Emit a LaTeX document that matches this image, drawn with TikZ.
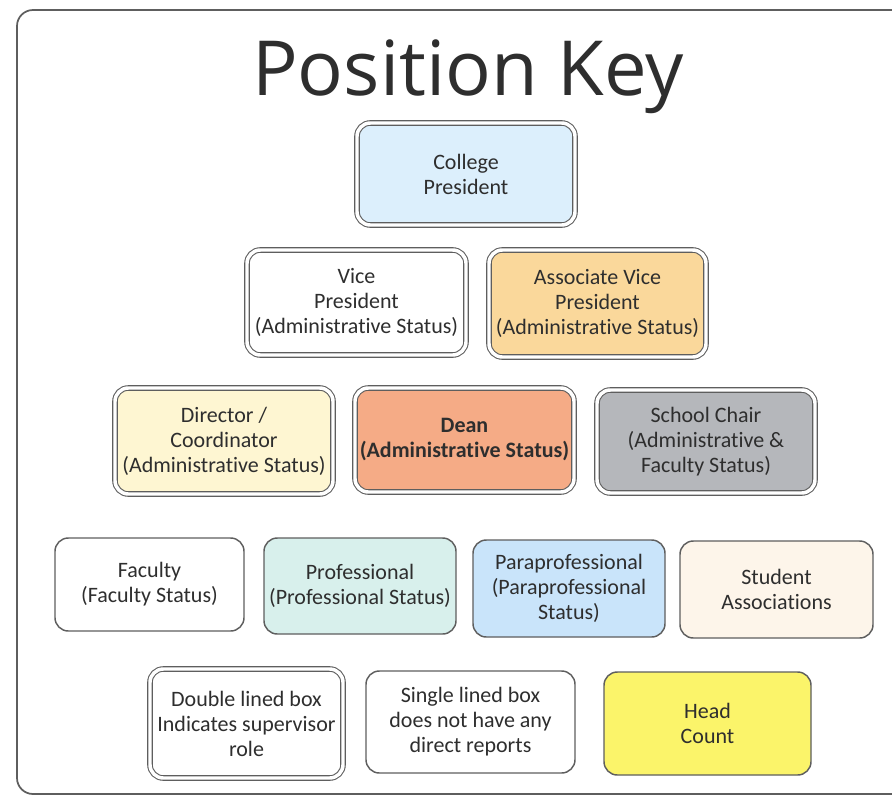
\documentclass[tikz,border=0pt]{standalone}
\usepackage{fontspec}
\setmainfont{Carlito}[Ligatures=NoCommon]
\newfontfamily\titlefont{Open Sans}
\definecolor{txt}{HTML}{2E2E2E}
\definecolor{edge}{HTML}{5E5E5E}
\definecolor{cpfill}{HTML}{DCEFFC}
\definecolor{avpfill}{HTML}{FAD89B}
\definecolor{dirfill}{HTML}{FEF6D2}
\definecolor{deanfill}{HTML}{F5AB86}
\definecolor{scfill}{HTML}{B5B7BB}
\definecolor{proffill}{HTML}{D8F0EC}
\definecolor{parafill}{HTML}{C9E4FA}
\definecolor{studfill}{HTML}{FDF5EA}
\definecolor{hcfill}{HTML}{FBF46A}
\tikzset{
  keybox/.style 2 args={rectangle, rounded corners=10pt, align=center,
    text=txt, font=\fontsize{16.5pt}{18.75pt}\selectfont, inner sep=2pt,
    minimum width=#1*0.75pt, minimum height=#2*0.75pt},
  singlebox/.style={draw=edge, line width=1.1pt},
  doublebox/.style={draw=edge, line width=0.8pt, double=white, double distance=2.6pt},
}
\begin{document}
\begin{tikzpicture}[x=0.75pt,y=-0.75pt]
\useasboundingbox (0,0) rectangle (892,796);
\clip (0,0) rectangle (892,796);
\fill[white] (0,0) rectangle (892,796);
\draw[edge, line width=1.3pt, rounded corners=12pt] (17,10) rectangle (910,794);
\node[anchor=base, text=txt, font=\titlefont\fontsize{57pt}{60pt}\selectfont] (title) at (468,95) {Position Key};

\node[keybox={218}{102}, doublebox, fill=cpfill] (cp) at (466,174) {College\\President};

\node[keybox={219}{105}, doublebox, fill=white] (vp) at (356.5,302.5) {Vice\\President\\(Administrative Status)};
\node[keybox={217}{107}, doublebox, fill=avpfill] (avp) at (597.5,303.5) {Associate Vice\\President\\(Administrative Status)};

\node[keybox={218}{106}, doublebox, fill=dirfill] (dir) at (224,441) {Director /\\Coordinator\\(Administrative Status)};
\node[keybox={219}{104}, doublebox, fill=deanfill, font=\bfseries\fontsize{16.5pt}{18.75pt}\selectfont] (dean) at (464.5,440) {Dean\\(Administrative Status)};
\node[keybox={218}{103}, doublebox, fill=scfill] (sc) at (706,441.5) {School Chair\\(Administrative \&\\Faculty Status)};

\node[keybox={189}{93}, singlebox, fill=white] (fac) at (149.5,584.5) {Faculty\\(Faculty Status)};
\node[keybox={192}{96}, singlebox, fill=proffill] (prof) at (360,586) {Professional\\(Professional Status)};
\node[keybox={192}{97}, singlebox, fill=parafill] (para) at (569,588.5) {Paraprofessional\\(Paraprofessional\\Status)};
\node[keybox={193}{97}, singlebox, fill=studfill] (stud) at (776.5,589.5) {Student\\Associations};

\node[keybox={193}{109}, doublebox, fill=white] (dbl) at (246.5,723.5) {Double lined box\\Indicates supervisor\\role};
\node[keybox={209}{102}, singlebox, fill=white] (sgl) at (470.5,722) {Single lined box\\does not have any\\direct reports};
\node[keybox={207}{103}, singlebox, fill=hcfill] (hc) at (707.5,723.5) {Head\\Count};
\end{tikzpicture}
\end{document}
